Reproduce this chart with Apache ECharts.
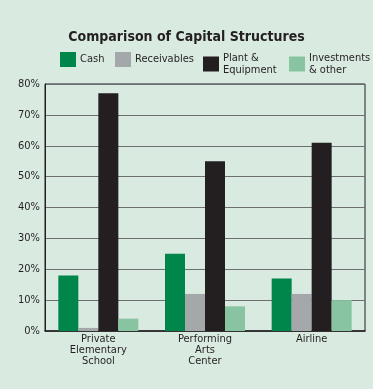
<!DOCTYPE html>
<html><head><meta charset="utf-8">
<script src="https://cdn.jsdelivr.net/npm/echarts@6/dist/echarts.min.js"></script>
<style>html,body{margin:0;padding:0;background:#d9eae1;}#c{width:373px;height:389px;}</style>
</head><body><div id="c"></div>
<script>
const categories = ['Private\nElementary\nSchool', 'Performing\nArts\nCenter', 'Airline'];
const seriesNames = ['Cash', 'Receivables', 'Plant &\nEquipment', 'Investments\n& other'];
const cash = [18, 25, 17];
const receivables = [1, 12, 12];
const plant = [77, 55, 61];
const investments = [4, 8, 10];
const yTicks = [0, 10, 20, 30, 40, 50, 60, 70, 80];
const colors = ['#00854a', '#a5a8ab', '#231f20', '#89c4a2'];
const values = [cash, receivables, plant, investments];
const font = "'DejaVu Sans Condensed', 'Liberation Sans Narrow', sans-serif";
const legendLefts = [60, 115, 203, 289];

const chart = echarts.init(document.getElementById('c'));
chart.setOption({
  backgroundColor: '#d9eae1',
  animation: false,
  title: {
    text: 'Comparison of Capital Structures',
    left: 'center', top: 25,
    textStyle: { fontFamily: font, fontSize: 14, fontWeight: 'bold', color: '#231f20' }
  },
  legend: seriesNames.map((n, i) => ({
    data: [n], left: legendLefts[i], top: 52,
    itemWidth: 16, itemHeight: 15, itemGap: 0, padding: 0,
    icon: 'rect',
    textStyle: { fontFamily: font, fontSize: 11, color: '#231f20', lineHeight: 12, padding: [0, 0, 0, -1] }
  })),
  grid: { left: 45, right: 8, top: 84, bottom: 58, show: true, borderColor: '#231f20', borderWidth: 1, backgroundColor: 'transparent' },
  xAxis: {
    type: 'category', data: categories,
    axisTick: { show: false },
    axisLine: { lineStyle: { color: '#231f20', width: 1.5 } },
    axisLabel: { fontFamily: font, fontSize: 11, color: '#231f20', lineHeight: 11, margin: 3, interval: 0 }
  },
  yAxis: {
    type: 'value', min: yTicks[0], max: yTicks[yTicks.length - 1], interval: 10,
    axisLine: { show: true, lineStyle: { color: '#231f20' } },
    axisTick: { show: false },
    splitLine: { lineStyle: { color: '#6d6e70', width: 1 } },
    axisLabel: { fontFamily: font, fontSize: 11, color: '#231f20', margin: 5, formatter: '{value}%' }
  },
  series: seriesNames.map((n, i) => ({
    name: n, type: 'bar', data: values[i],
    itemStyle: { color: colors[i] },
    barGap: '0%', barCategoryGap: '25%'
  }))
});
</script></body></html>
